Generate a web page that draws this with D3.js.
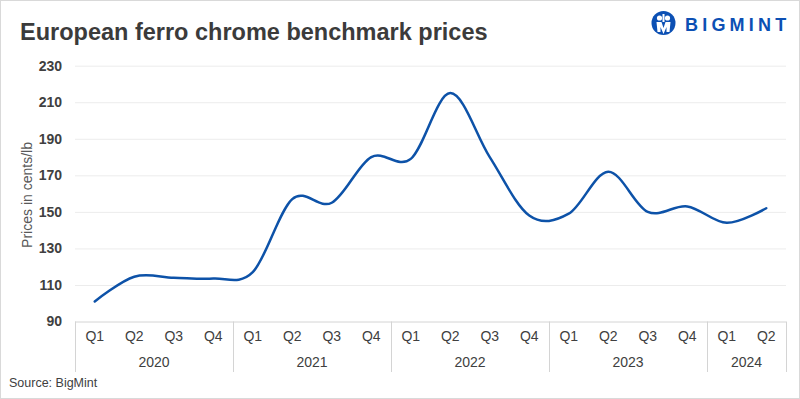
<!DOCTYPE html>
<html>
<head>
<meta charset="utf-8">
<script src="https://cdn.jsdelivr.net/npm/d3@7"></script>
<style>
  html, body { margin: 0; padding: 0; background: #fff; }
  svg { display: block; }
</style>
</head>
<body>
<div id="chart"></div>
<script>
// ---- data ------------------------------------------------------
const quarters = ["Q1","Q2","Q3","Q4","Q1","Q2","Q3","Q4","Q1","Q2","Q3","Q4","Q1","Q2","Q3","Q4","Q1","Q2"];
const years = ["2020", "2021", "2022", "2023", "2024"];
const quartersPerYear = [4, 4, 4, 4, 2];
const prices = [101, 114.5, 114, 113.5, 117, 157, 155, 180, 179, 215, 180, 148, 149, 172, 150, 153, 144, 152];
const yTicks = [90, 110, 130, 150, 170, 190, 210, 230];

// ---- config ----------------------------------------------------
const CONFIG = {
    WIDTH: 800,
    HEIGHT: 399,
    LEFT: 75,
    RIGHT: 786,
    TOP: 65.7,
    BOTTOM: 321.5,
    LINE_COLOR: "#0d52a8",
    GRID_COLOR: "#ececec",
    AXIS_COLOR: "#d4d4d4",
    TEXT_COLOR: "#404040",
    BLUE: "#0c50b4",
};

const svg = d3.select("#chart").append("svg")
    .attr("width", CONFIG.WIDTH)
    .attr("height", CONFIG.HEIGHT);

// frame
svg.append("rect")
    .attr("x", 0.5).attr("y", 0.5)
    .attr("width", CONFIG.WIDTH - 1).attr("height", CONFIG.HEIGHT - 1)
    .attr("fill", "#fff")
    .attr("stroke", "#d9d9d9");

// ---- scales ----------------------------------------------------
const x = d3.scaleBand()
    .domain(d3.range(prices.length))
    .range([CONFIG.LEFT, CONFIG.RIGHT])
    .paddingInner(0).paddingOuter(0);

const y = d3.scaleLinear()
    .domain([90, 230])
    .range([CONFIG.BOTTOM, CONFIG.TOP]);

// ---- gridlines + y axis ---------------------------------------
const grid = svg.append("g")
    .attr("transform", `translate(${CONFIG.LEFT},0)`)
    .call(d3.axisLeft(y).tickValues(yTicks.slice(1)).tickSize(-(CONFIG.RIGHT - CONFIG.LEFT)).tickFormat(""));
grid.select(".domain").remove();
grid.selectAll("line").attr("stroke", CONFIG.GRID_COLOR).attr("stroke-width", 1);

const yAxis = svg.append("g")
    .attr("transform", `translate(62,0)`)
    .call(d3.axisLeft(y).tickValues(yTicks).tickSize(0).tickPadding(0));
yAxis.select(".domain").remove();
yAxis.selectAll("text")
    .attr("fill", CONFIG.TEXT_COLOR)
    .style("font-family", "'Liberation Sans', Arial, sans-serif")
    .style("font-size", "14px")
    .style("font-weight", "bold");

// y axis title
svg.append("text")
    .attr("transform", `translate(32,195) rotate(-90)`)
    .attr("text-anchor", "middle")
    .attr("fill", "#595959")
    .style("font-family", "'Liberation Sans', Arial, sans-serif")
    .style("font-size", "14px")
    .text("Prices in cents/lb");

// ---- x axis (quarters + years) ---------------------------------
const xAxis = svg.append("g")
    .attr("transform", `translate(0,${CONFIG.BOTTOM})`)
    .call(d3.axisBottom(x).tickSize(0).tickPadding(10).tickFormat(i => quarters[i]));
xAxis.select(".domain").remove();
xAxis.selectAll("text")
    .attr("fill", CONFIG.TEXT_COLOR)
    .style("font-family", "'Liberation Sans', Arial, sans-serif")
    .style("font-size", "14px");

// bottom axis line
svg.append("line")
    .attr("x1", CONFIG.LEFT).attr("x2", CONFIG.RIGHT)
    .attr("y1", CONFIG.BOTTOM + 0.5).attr("y2", CONFIG.BOTTOM + 0.5)
    .attr("stroke", CONFIG.AXIS_COLOR);

// year groups
let start = 0;
const groups = years.map((yr, k) => {
    const g = { year: yr, first: start, last: start + quartersPerYear[k] - 1 };
    start += quartersPerYear[k];
    return g;
});

const sepIdx = [0].concat(groups.map(g => g.last + 1));
svg.selectAll(".sep")
    .data(sepIdx)
    .join("line")
    .attr("class", "sep")
    .attr("x1", i => Math.round(i < prices.length ? x(i) : CONFIG.RIGHT) + 0.5)
    .attr("x2", i => Math.round(i < prices.length ? x(i) : CONFIG.RIGHT) + 0.5)
    .attr("y1", CONFIG.BOTTOM)
    .attr("y2", 372)
    .attr("stroke", CONFIG.AXIS_COLOR);

svg.selectAll(".year")
    .data(groups)
    .join("text")
    .attr("class", "year")
    .attr("x", g => (x(g.first) + x(g.last) + x.bandwidth()) / 2)
    .attr("y", 367)
    .attr("text-anchor", "middle")
    .attr("fill", CONFIG.TEXT_COLOR)
    .style("font-family", "'Liberation Sans', Arial, sans-serif")
    .style("font-size", "14px")
    .text(g => g.year);

// ---- line ------------------------------------------------------
const line = d3.line()
    .x((d, i) => x(i) + x.bandwidth() / 2)
    .y(d => y(d))
    .curve(d3.curveCardinal.tension(0));

svg.append("path")
    .datum(prices)
    .attr("d", line)
    .attr("fill", "none")
    .attr("stroke", CONFIG.LINE_COLOR)
    .attr("stroke-width", 2.5)
    .attr("stroke-linecap", "round");

// ---- title, source, logo ---------------------------------------
svg.append("text")
    .attr("x", 20).attr("y", 40)
    .attr("fill", "#3b3b3b")
    .style("font-family", "'Liberation Sans', Arial, sans-serif")
    .style("font-size", "23.5px")
    .style("font-weight", "bold")
    .text("European ferro chrome benchmark prices");

svg.append("text")
    .attr("x", 9).attr("y", 387)
    .attr("fill", CONFIG.TEXT_COLOR)
    .style("font-family", "'Liberation Sans', Arial, sans-serif")
    .style("font-size", "12.5px")
    .text("Source: BigMint");

const logo = svg.append("g").attr("transform", "translate(663.5,23)");
logo.append("circle").attr("r", 12).attr("fill", CONFIG.BLUE);
logo.append("circle").attr("cx", -4).attr("cy", -5).attr("r", 2.6).attr("fill", "#fff");
logo.append("circle").attr("cx", 4).attr("cy", -5).attr("r", 2.6).attr("fill", "#fff");
logo.append("path")
    .attr("d", "M-7,-1 L-2,-1 L0,5 L2,-1 L7,-1 L6,9 L3,9 L3,4 L0,11 L-3,4 L-3,9 L-6,9 Z")
    .attr("fill", "#fff");
logo.append("rect").attr("x", -1).attr("y", -9).attr("width", 2).attr("height", 8).attr("fill", "#fff");

svg.append("text")
    .attr("x", 685).attr("y", 31)
    .attr("fill", CONFIG.BLUE)
    .style("font-family", "'Liberation Sans', Arial, sans-serif")
    .style("font-size", "18px")
    .style("font-weight", "bold")
    .style("letter-spacing", "4.2px")
    .text("BIGMINT");
</script>
</body>
</html>
